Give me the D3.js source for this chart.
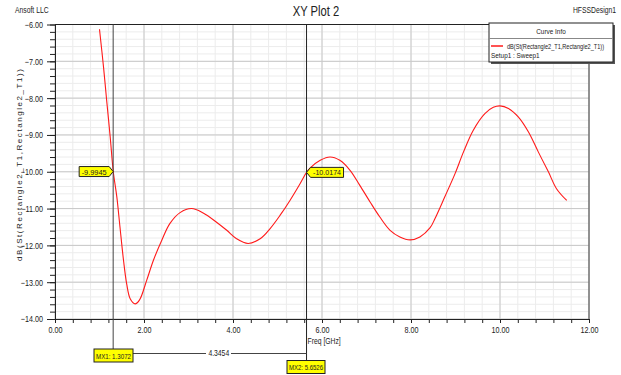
<!DOCTYPE html>
<html>
<head>
  <meta charset="utf-8">
  <style>
    body {
      margin: 0;
      background: #fff;
      font-family: "Liberation Sans", Arial, sans-serif;
    }
    svg text { fill: #222; }
    .grid-minor line { stroke: #ececec; }
    .grid-major line { stroke: #c8c8c8; }
    .axis path, .axis line { stroke: #222; }
  </style>
</head>
<body>
  <div id="chart"></div>
  <script src="https://d3js.org/d3.v7.min.js"></script>
  <script>

    // DATA
    var freq = [1.00, 1.09, 1.16, 1.24, 1.31, 1.39, 1.46, 1.54, 1.61, 1.69, 1.80, 1.90,
      2.06, 2.21, 2.40, 2.58, 2.81, 3.07, 3.33, 3.63, 3.86, 4.08, 4.34, 4.61, 4.83,
      5.06, 5.28, 5.51, 5.65, 5.73, 5.96, 6.18, 6.40, 6.63, 6.85, 7.08, 7.30, 7.53,
      7.75, 7.98, 8.20, 8.43, 8.54, 8.76, 8.99, 9.18, 9.40, 9.66, 9.85, 10.00, 10.19,
      10.41, 10.64, 10.86, 11.09, 11.27, 11.50];
    var dB = [-6.13, -7.15, -8.05, -9.05, -10.00, -10.69, -11.50, -12.41, -13.04, -13.45, -13.59, -13.48,
      -12.95, -12.41, -11.86, -11.41, -11.11, -11.00, -11.12, -11.37, -11.59, -11.82, -11.95, -11.82, -11.55,
      -11.18, -10.78, -10.32, -10.02, -9.90, -9.69, -9.60, -9.69, -9.96, -10.37, -10.82, -11.23, -11.59,
      -11.77, -11.85, -11.77, -11.52, -11.27, -10.68, -10.05, -9.46, -8.87, -8.42, -8.25, -8.21, -8.28,
      -8.51, -8.92, -9.46, -10.01, -10.46, -10.78];

    var xTicks = [0, 2, 4, 6, 8, 10, 12];
    var yTicks = [-14, -13, -12, -11, -10, -9, -8, -7, -6];

    var markerNames = ['MX1', 'MX2'];
    var markerFreq = [1.3072, 5.6526];
    var markerVal = [-9.9945, -10.0174];
    var markerDelta = '4.3454';

    var curveName = 'dB(St(Rectangle2_T1,Rectangle2_T1))';
    var setupName = 'Setup1 : Sweep1';

    // LAYOUT
    var W = 621, H = 375;
    var pLeft = 55, pRight = 589, pTop = 24.5, pBottom = 319;

    var svg = d3.select('#chart').append('svg')
      .attr('width', W)
      .attr('height', H);

    var x = d3.scaleLinear().domain([0, 12]).range([pLeft, pRight]);
    var y = d3.scaleLinear().domain([-14, -6]).range([pBottom, pTop]);

    var xMinor = d3.range(0, 12.001, 0.4);
    var yMinor = d3.range(-14, -5.999, 0.2);

    // grid
    svg.append('g').attr('class', 'grid-minor')
      .selectAll('line').data(xMinor).enter().append('line')
        .attr('x1', d => x(d)).attr('x2', d => x(d))
        .attr('y1', pTop).attr('y2', pBottom);
    svg.append('g').attr('class', 'grid-minor')
      .selectAll('line').data(yMinor).enter().append('line')
        .attr('y1', d => y(d)).attr('y2', d => y(d))
        .attr('x1', pLeft).attr('x2', pRight);
    svg.append('g').attr('class', 'grid-major')
      .selectAll('line').data(xTicks).enter().append('line')
        .attr('x1', d => x(d)).attr('x2', d => x(d))
        .attr('y1', pTop).attr('y2', pBottom);
    svg.append('g').attr('class', 'grid-major')
      .selectAll('line').data(yTicks).enter().append('line')
        .attr('y1', d => y(d)).attr('y2', d => y(d))
        .attr('x1', pLeft).attr('x2', pRight);

    // frame top/right
    svg.append('line').attr('x1', pLeft).attr('x2', pRight).attr('y1', pTop).attr('y2', pTop)
      .attr('stroke', '#222');
    svg.append('line').attr('x1', pRight).attr('x2', pRight).attr('y1', pTop).attr('y2', pBottom)
      .attr('stroke', '#444');

    // axes
    var fmt = d3.format('.2f');

    svg.append('g').attr('class', 'axis')
      .attr('transform', `translate(${pLeft},0)`)
      .call(d3.axisLeft(y).tickValues(yMinor).tickSize(5).tickFormat(''))
      .call(g => g.select('.domain').remove());
    svg.append('g').attr('class', 'axis')
      .attr('transform', `translate(${pLeft},0)`)
      .call(d3.axisLeft(y).tickValues(yTicks).tickSize(8).tickPadding(4).tickFormat(fmt).tickSizeOuter(0))
      .call(g => g.selectAll('text').style('font-size', '9px'));

    svg.append('g').attr('class', 'axis')
      .attr('transform', `translate(0,${pBottom})`)
      .call(d3.axisBottom(x).tickValues(xMinor).tickSize(4).tickFormat(''))
      .call(g => g.select('.domain').remove());
    svg.append('g').attr('class', 'axis')
      .attr('transform', `translate(0,${pBottom})`)
      .call(d3.axisBottom(x).tickValues(xTicks).tickSize(4).tickPadding(4).tickFormat(fmt).tickSizeOuter(0))
      .call(g => g.selectAll('text').style('font-size', '9px'));

    // curve
    var pts = freq.map((f, i) => [f, dB[i]]);
    svg.append('path')
      .datum(pts)
      .attr('fill', 'none')
      .attr('stroke', '#ff1a1a')
      .attr('stroke-width', 1.1)
      .attr('d', d3.line().x(d => x(d[0])).y(d => y(d[1])).curve(d3.curveCatmullRom));

    // texts
    svg.append('text').attr('x', 15).attr('y', 13).style('font-size', '8.5px').text('Ansoft LLC');
    svg.append('text').attr('x', 316).attr('y', 16).attr('text-anchor', 'middle')
      .style('font-size', '14px').text('XY Plot 2');
    svg.append('text').attr('x', 616).attr('y', 13).attr('text-anchor', 'end')
      .style('font-size', '8.5px').text('HFSSDesign1');
    svg.append('text').attr('x', x(markerFreq[1]) + 1).attr('y', 344)
      .style('font-size', '8.5px').text('Freq [GHz]');

    // legend
    var lg = svg.append('g').attr('transform', 'translate(489,23)');
    lg.append('rect').attr('x', 2).attr('y', 2).attr('width', 124).attr('height', 39).attr('fill', '#555');
    lg.append('rect').attr('width', 124).attr('height', 39).attr('fill', '#fff').attr('stroke', '#222');
    lg.append('text').attr('x', 62).attr('y', 11).attr('text-anchor', 'middle')
      .style('font-size', '8px').text('Curve Info');
    lg.append('line').attr('x1', 0).attr('x2', 124).attr('y1', 15.5).attr('y2', 15.5).attr('stroke', '#888');
    lg.append('line').attr('x1', 2).attr('x2', 14).attr('y1', 23).attr('y2', 23)
      .attr('stroke', '#ff1a1a').attr('stroke-width', 1.5);
    lg.append('text').attr('x', 2).attr('y', 35).style('font-size', '8px').text(setupName);

    var mx1 = x(markerFreq[0]), mx2 = x(markerFreq[1]);
    svg.append('text').attr('x', (133 + mx2) / 2 - 1).attr('y', 356.5).attr('text-anchor', 'middle')
      .style('font-size', '8.5px').text(markerDelta);

    // squeeze all texts horizontally so they look like the narrow font in
    // the original, scaling around each text's own anchor x
    svg.selectAll('text').each(function() {
      var ax = +(this.getAttribute('x') || 0);
      d3.select(this).attr('transform', `translate(${ax},0) scale(0.8,1) translate(${-ax},0)`);
    });

    // fixed width texts
    lg.append('text').attr('x', 18).attr('y', 26).style('font-size', '8px').text(curveName)
      .attr('textLength', 97).attr('lengthAdjust', 'spacingAndGlyphs');
    var yl = svg.append('text')
      .attr('transform', 'translate(22,165) rotate(-90)')
      .style('font-size', '8px')
      .text(curveName);
    var ylLen = yl.node().getComputedTextLength();
    yl.attr('x', -96).attr('textLength', 192).attr('lengthAdjust', ylLen > 192 ? 'spacingAndGlyphs' : 'spacing');

    // markers
    svg.append('line').attr('x1', mx1).attr('x2', mx1).attr('y1', pTop).attr('y2', 349)
      .attr('stroke', '#444');
    svg.append('line').attr('x1', mx2).attr('x2', mx2).attr('y1', pTop).attr('y2', 360)
      .attr('stroke', '#222');
    svg.append('line').attr('x1', 133).attr('x2', 206).attr('y1', 353.5).attr('y2', 353.5).attr('stroke', '#444');
    svg.append('line').attr('x1', 231).attr('x2', mx2).attr('y1', 353.5).attr('y2', 353.5).attr('stroke', '#444');

    function boxLabel(x0, x1, ty, txt) {
      var g = svg.append('g');
      g.append('rect')
        .attr('x', x0).attr('y', ty).attr('width', x1 - x0).attr('height', 13)
        .attr('fill', '#ffff00').attr('stroke', '#222');
      g.append('text').attr('x', x0 + 2).attr('y', ty + 9.5)
        .style('font-size', '8px').text(txt)
        .attr('textLength', x1 - x0 - 4).attr('lengthAdjust', 'spacingAndGlyphs');
    }
    boxLabel(94, 133, 349, markerNames[0] + ': ' + markerFreq[0].toFixed(4));
    boxLabel(287, 325, 360.5, markerNames[1] + ': ' + markerFreq[1].toFixed(4));

    // value flags
    function flag(px, py, txt, dir) {
      var g = svg.append('g');
      var w = dir < 0 ? 30 : 33, h = 10, tip = 4;
      var p, x0;
      if (dir < 0) {
        var r = px - tip;
        p = [[r - w, py - h / 2], [r, py - h / 2], [px, py], [r, py + h / 2], [r - w, py + h / 2]];
        x0 = r - w;
      } else {
        var l = px + tip;
        p = [[px, py], [l, py - h / 2], [l + w, py - h / 2], [l + w, py + h / 2], [l, py + h / 2]];
        x0 = l;
      }
      g.append('polygon').attr('points', p.map(q => q.join(',')).join(' '))
        .attr('fill', '#ffff00').attr('stroke', '#222');
      g.append('text').attr('x', x0 + 2.5).attr('y', py + 3)
        .style('font-size', '8px').text(txt)
        .attr('textLength', w - 5).attr('lengthAdjust', 'spacingAndGlyphs');
    }
    flag(mx1, y(markerVal[0]), markerVal[0].toFixed(4), -1);
    flag(mx2, y(markerVal[1]), markerVal[1].toFixed(4), 1);

  </script>
</body>
</html>
